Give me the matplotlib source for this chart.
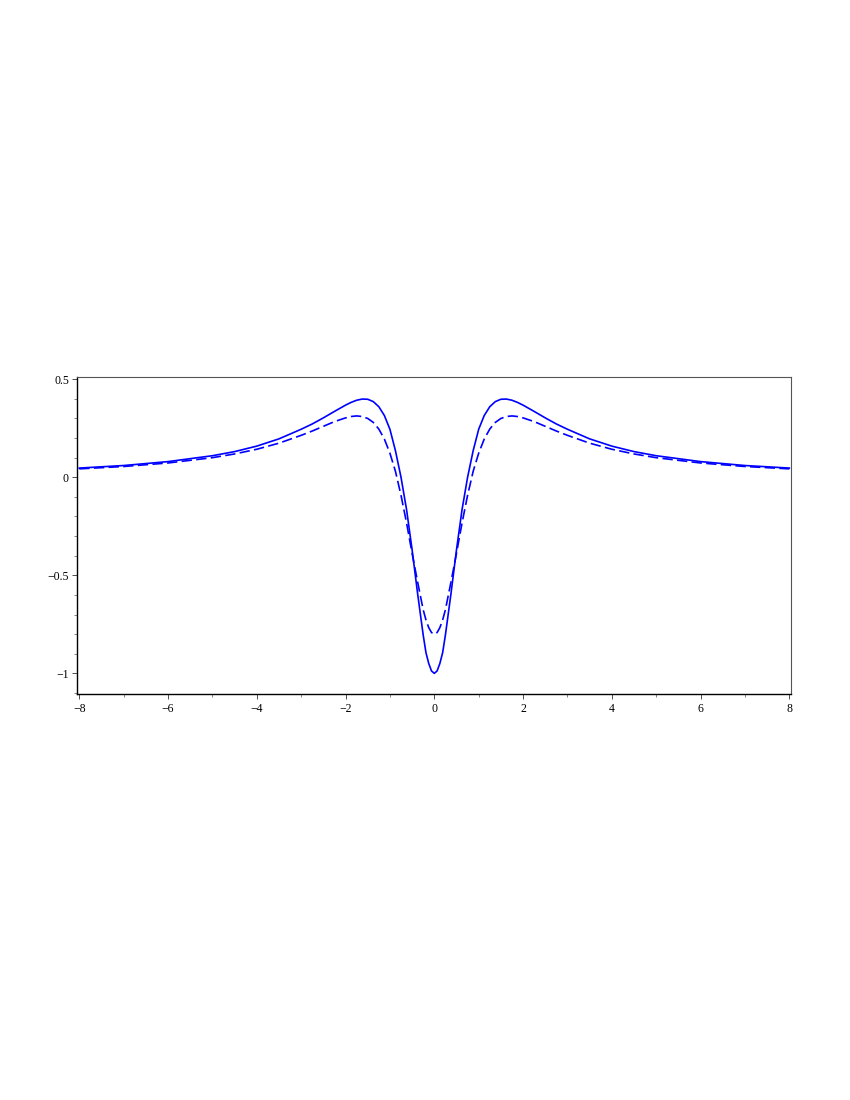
import matplotlib
matplotlib.use("Agg")
import matplotlib.pyplot as plt
from matplotlib.ticker import MultipleLocator

plt.rcParams['font.family'] = ['Liberation Serif', 'DejaVu Serif']

# values (curves are symmetric about x = 0)
x_half = [-8, -7, -6, -5, -4.5, -4, -3.5, -3, -2.75, -2.5, -2.25, -2,
          -1.875, -1.75, -1.625, -1.5, -1.375, -1.25, -1.125, -1, -0.875,
          -0.75, -0.625, -0.5, -0.375, -0.25, -0.1875, -0.125, -0.0625, 0]
solid_half = [0.047, 0.060, 0.080, 0.110, 0.131, 0.159, 0.196, 0.245, 0.272,
              0.303, 0.336, 0.368, 0.382, 0.393, 0.399, 0.398, 0.386, 0.360,
              0.315, 0.245, 0.135, 0.0, -0.165, -0.37, -0.595, -0.805,
              -0.895, -0.95, -0.988, -1.0]
dashed_half = [0.043, 0.055, 0.073, 0.100, 0.119, 0.143, 0.174, 0.214, 0.236,
               0.260, 0.284, 0.303, 0.310, 0.313, 0.310, 0.300, 0.280, 0.246,
               0.195, 0.123, 0.030, -0.092, -0.233, -0.388, -0.535, -0.676,
               -0.728, -0.767, -0.792, -0.80]

x = x_half + [-v for v in x_half[-2::-1]]
solid = solid_half + solid_half[-2::-1]
dashed = dashed_half + dashed_half[-2::-1]

xticks = [-8, -6, -4, -2, 0, 2, 4, 6, 8]
xlabels = ['\u22128', '\u22126', '\u22124', '\u22122', '0', '2', '4', '6', '8']
yticks = [-1, -0.5, 0, 0.5]
ylabels = ['\u22121', '\u22120.5', '0', '0.5']

fig = plt.figure(figsize=(8.5, 11), dpi=100)
ax = fig.add_axes([0.0909, 0.3688, 0.8393, 0.2882])

ax.plot(x, solid, color='#0000ff', lw=1.2)
ax.plot(x, dashed, color='#0000ff', lw=1.2, linestyle=(0, (6.2, 2.6)))

ax.set_xlim(-8.045, 8.03)
ax.set_ylim(-1.107, 0.51)

ax.set_xticks(xticks)
ax.set_xticklabels(xlabels)
ax.set_yticks(yticks)
ax.set_yticklabels(ylabels)
ax.xaxis.set_minor_locator(MultipleLocator(1))
ax.yaxis.set_minor_locator(MultipleLocator(0.1))
ax.tick_params(which='major', length=3.5, width=0.6, labelsize=8.5, pad=2.5, color='#333333')
ax.tick_params(which='minor', length=2.5, width=0.5, color='#555555')

for side in ['left', 'bottom']:
    ax.spines[side].set_color('black')
    ax.spines[side].set_linewidth(1.0)
for side in ['top', 'right']:
    ax.spines[side].set_color('#555555')
    ax.spines[side].set_linewidth(0.8)

fig.savefig('out.png', dpi=100)
